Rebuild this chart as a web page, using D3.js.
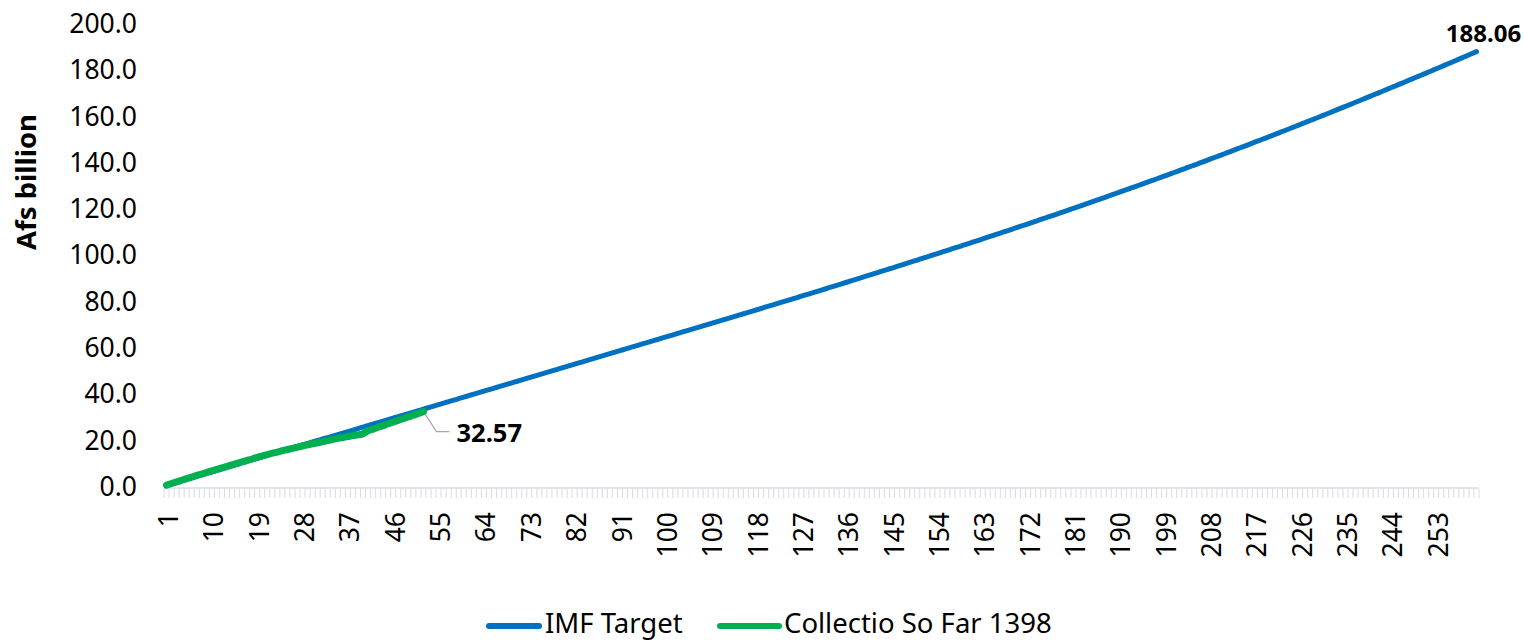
<!DOCTYPE html>
<html>
<head>
<meta charset="utf-8">
<script src="https://cdn.jsdelivr.net/npm/d3@7"></script>
<style>
  html, body { margin: 0; padding: 0; background: #fff; }
  svg text { font-family: "Noto Sans", "Open Sans", sans-serif; fill: #000; }
</style>
</head>
<body>
<svg id="chart" width="1524" height="641"></svg>
<script>
const imfTarget = [
  0.70, 1.35, 1.99, 2.64, 3.28, 3.93, 4.58, 5.22, 5.87, 6.51,
  7.16, 7.81, 8.45, 9.10, 9.74, 10.39, 11.04, 11.68, 12.33, 12.97,
  13.62, 14.27, 14.91, 15.56, 16.20, 16.85, 17.50, 18.14, 18.79, 19.43,
  20.08, 20.73, 21.37, 22.02, 22.66, 23.31, 23.96, 24.60, 25.25, 25.89,
  26.54, 27.19, 27.83, 28.48, 29.12, 29.77, 30.42, 31.06, 31.71, 32.35,
  33.00, 33.65, 34.29, 34.94, 35.58, 36.23, 36.88, 37.52, 38.17, 38.81,
  39.46, 40.11, 40.75, 41.40, 42.04, 42.69, 43.34, 43.98, 44.63, 45.27,
  45.92, 46.57, 47.21, 47.86, 48.50, 49.15, 49.80, 50.45, 51.10, 51.75,
  52.40, 53.05, 53.70, 54.35, 55.00, 55.65, 56.30, 56.95, 57.60, 58.25,
  58.90, 59.55, 60.20, 60.85, 61.50, 62.15, 62.80, 63.45, 64.10, 64.75,
  65.40, 66.05, 66.70, 67.35, 68.00, 68.65, 69.30, 69.95, 70.60, 71.25,
  71.90, 72.55, 73.20, 73.85, 74.50, 75.15, 75.80, 76.46, 77.11, 77.77,
  78.43, 79.09, 79.75, 80.41, 81.08, 81.74, 82.41, 83.07, 83.74, 84.41,
  85.08, 85.75, 86.43, 87.10, 87.78, 88.45, 89.13, 89.81, 90.49, 91.17,
  91.85, 92.54, 93.22, 93.91, 94.59, 95.28, 95.97, 96.66, 97.35, 98.04,
  98.74, 99.43, 100.13, 100.82, 101.52, 102.22, 102.92, 103.62, 104.33, 105.04,
  105.75, 106.46, 107.17, 107.89, 108.61, 109.33, 110.05, 110.77, 111.50, 112.23,
  112.96, 113.69, 114.42, 115.16, 115.90, 116.64, 117.38, 118.13, 118.88, 119.63,
  120.38, 121.13, 121.89, 122.65, 123.41, 124.17, 124.93, 125.70, 126.47, 127.24,
  128.01, 128.78, 129.56, 130.34, 131.12, 131.91, 132.69, 133.48, 134.27, 135.07,
  135.86, 136.66, 137.46, 138.27, 139.07, 139.88, 140.69, 141.51, 142.32, 143.14,
  143.96, 144.79, 145.61, 146.44, 147.27, 148.11, 148.94, 149.78, 150.62, 151.47,
  152.31, 153.16, 154.01, 154.87, 155.72, 156.58, 157.44, 158.31, 159.17, 160.04,
  160.91, 161.79, 162.66, 163.54, 164.42, 165.30, 166.19, 167.08, 167.97, 168.86,
  169.75, 170.65, 171.54, 172.44, 173.35, 174.25, 175.16, 176.06, 176.97, 177.89,
  178.80, 179.72, 180.64, 181.56, 182.48, 183.40, 184.33, 185.26, 186.19, 187.12,
  188.06
];
const collection1398 = [
  0.8, 1.5, 2.2, 2.9, 3.6, 4.3, 5.0, 5.6, 6.3, 7.0,
  7.6, 8.3, 8.9, 9.6, 10.2, 10.9, 11.5, 12.1, 12.8, 13.4,
  14.0, 14.6, 15.1, 15.7, 16.2, 16.7, 17.2, 17.7, 18.2, 18.7,
  19.1, 19.6, 20.1, 20.5, 21.0, 21.4, 21.8, 22.2, 22.5, 23.0,
  24.3, 25.0, 25.8, 26.5, 27.3, 28.0, 28.8, 29.5, 30.3, 31.0,
  31.8, 32.57
];
const categories = imfTarget.map((d, i) => String(i + 1));
const yTicks = [0, 20, 40, 60, 80, 100, 120, 140, 160, 180, 200];
const seriesNames = ["IMF Target", "Collectio So Far 1398"];
const seriesColors = ["#0070C0", "#00B050"];
const yTitle = "Afs billion";

const svg = d3.select("#chart");

const x = d3.scaleBand().domain(categories).range([164, 1479]).paddingInner(0).paddingOuter(0);
const y = d3.scaleLinear().domain([0, 200]).range([487, 24]);
const cx = c => x(c) + x.bandwidth() / 2;

// Y axis labels (no axis line)
const yAxis = d3.axisLeft(y).tickValues(yTicks).tickFormat(d3.format(".1f")).tickSize(0).tickPadding(0);
const yG = svg.append("g").attr("transform", "translate(137,0)").call(yAxis);
yG.select(".domain").remove();
yG.selectAll("text").attr("font-size", 26.5).attr("font-family", "Noto Sans").attr("fill", "#000");

// X axis: line with tick marks at every category boundary
const xAxisG = svg.append("g");
xAxisG.append("line")
  .attr("x1", x.range()[0]).attr("x2", x.range()[1])
  .attr("y1", 488).attr("y2", 488)
  .attr("stroke", "#d9dce6").attr("stroke-width", 1.5);
const boundaries = categories.map(c => x(c)).concat([x.range()[1]]);
xAxisG.selectAll("line.tk").data(boundaries).enter().append("line")
  .attr("class", "tk")
  .attr("x1", d => d).attr("x2", d => d)
  .attr("y1", 488).attr("y2", 498)
  .attr("stroke", "#d9dce6").attr("stroke-width", 1);

const labelCats = categories.filter((c, i) => i % 9 === 0);
xAxisG.selectAll("text.xl").data(labelCats).enter().append("text")
  .attr("class", "xl")
  .attr("transform", d => `translate(${cx(d) + 2},512) rotate(-90)`)
  .attr("text-anchor", "end")
  .attr("dy", "0.36em")
  .attr("font-size", 26.5)
  .text(d => d);

// Lines
const line = d3.line().x((d, i) => cx(categories[i])).y(d => y(d)).curve(d3.curveMonotoneX);
svg.append("path").datum(imfTarget)
  .attr("d", line).attr("fill", "none")
  .attr("stroke", seriesColors[0]).attr("stroke-width", 5)
  .attr("stroke-linecap", "round").attr("stroke-linejoin", "round");
svg.append("path").datum(collection1398)
  .attr("d", line).attr("fill", "none")
  .attr("stroke", seriesColors[1]).attr("stroke-width", 7)
  .attr("stroke-linecap", "round").attr("stroke-linejoin", "round");

// Data labels
const lastI = imfTarget.length - 1;
svg.append("text")
  .attr("x", cx(categories[lastI]) + 7).attr("y", y(imfTarget[lastI]) - 18)
  .attr("text-anchor", "middle").attr("dy", "0.36em").attr("font-weight", "bold").attr("font-size", 24)
  .text(imfTarget[lastI].toFixed(2));

const gI = collection1398.length - 1;
const gx = cx(categories[gI]), gy = y(collection1398[gI]);
svg.append("path")
  .attr("d", `M${gx + 2},${gy + 3} L${gx + 13},${gy + 20} L${gx + 26},${gy + 20}`)
  .attr("fill", "none").attr("stroke", "#a6a6a6").attr("stroke-width", 1.2);
svg.append("text")
  .attr("x", gx + 33).attr("y", gy + 21).attr("dy", "0.36em")
  .attr("font-weight", "bold").attr("font-size", 25.5)
  .text(collection1398[gI].toFixed(2));

// Y title
svg.append("text")
  .attr("transform", "translate(26,182) rotate(-90)")
  .attr("text-anchor", "middle").attr("dy", "0.36em")
  .attr("font-weight", "bold").attr("font-size", 27.5)
  .text(yTitle);

// Legend
const legendItems = [
  { name: seriesNames[0], color: seriesColors[0], x1: 489, x2: 539, tx: 545 },
  { name: seriesNames[1], color: seriesColors[1], x1: 720, x2: 779, tx: 784 }
];
const lg = svg.append("g");
legendItems.forEach(it => {
  lg.append("line").attr("x1", it.x1).attr("x2", it.x2).attr("y1", 626).attr("y2", 626)
    .attr("stroke", it.color).attr("stroke-width", 6).attr("stroke-linecap", "round");
  lg.append("text").attr("x", it.tx).attr("y", 623).attr("dy", "0.36em")
    .attr("font-size", 27.5).text(it.name);
});
</script>
</body>
</html>
